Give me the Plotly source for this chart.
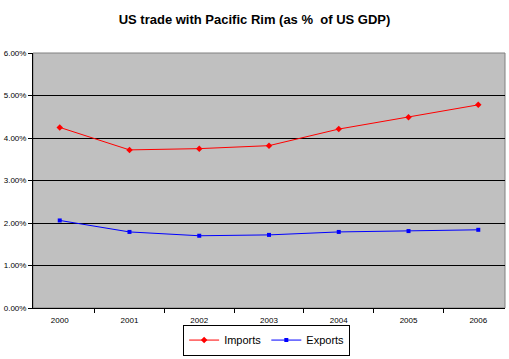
import plotly.graph_objects as go

years = ["2000", "2001", "2002", "2003", "2004", "2005", "2006"]
imports = [4.25, 3.72, 3.75, 3.82, 4.21, 4.49, 4.78]
exports = [2.06, 1.79, 1.70, 1.72, 1.79, 1.81, 1.84]

fig = go.Figure()
fig.add_trace(go.Scatter(x=years, y=imports, name="Imports", mode="lines+markers",
                         line=dict(color="#FF0000", width=1),
                         marker=dict(symbol="diamond", size=5, color="#FF0000")))
fig.add_trace(go.Scatter(x=years, y=exports, name="Exports", mode="lines+markers",
                         line=dict(color="#0000FF", width=1),
                         marker=dict(symbol="square", size=4, color="#0000FF")))

fig.update_layout(
    width=509, height=359,
    margin=dict(l=33, r=4, t=53, b=51, autoexpand=False),
    paper_bgcolor="white", plot_bgcolor="#C0C0C0",
    title=dict(text="<b>US trade with Pacific Rim (as %  of US GDP)</b>", x=0.5, xref="container",
               y=0.945, yanchor="middle", font=dict(family="Arial", size=13, color="black")),
    font=dict(family="Arial", color="black"),
    showlegend=True,
    legend=dict(orientation="h", x=0.495, xanchor="center", y=-0.065, yanchor="top",
                bordercolor="black", borderwidth=1, font=dict(size=11),
                itemwidth=30, tracegroupgap=0),
    xaxis=dict(type="category", showline=True, linecolor="black", linewidth=1,
               ticks="outside", tickson="boundaries", ticklen=4, tickcolor="black",
               tickfont=dict(size=8), showgrid=False, mirror=False, automargin=False,
               ticklabelstandoff=4),
    yaxis=dict(range=[0, 6], dtick=1, tickformat=".2f", ticksuffix="%",
               showline=True, linecolor="black", linewidth=1,
               ticks="outside", ticklen=4, tickcolor="black",
               tickfont=dict(size=8), showgrid=True, gridcolor="black", gridwidth=1,
               zeroline=False, automargin=False),
)
fig.add_shape(type="rect", xref="paper", yref="paper", x0=0, x1=1, y0=0, y1=1,
              line=dict(color="#808080", width=1), layer="below")
fig.write_html("out.html", config={"displayModeBar": False},
               post_script="document.body.style.margin='0';")
